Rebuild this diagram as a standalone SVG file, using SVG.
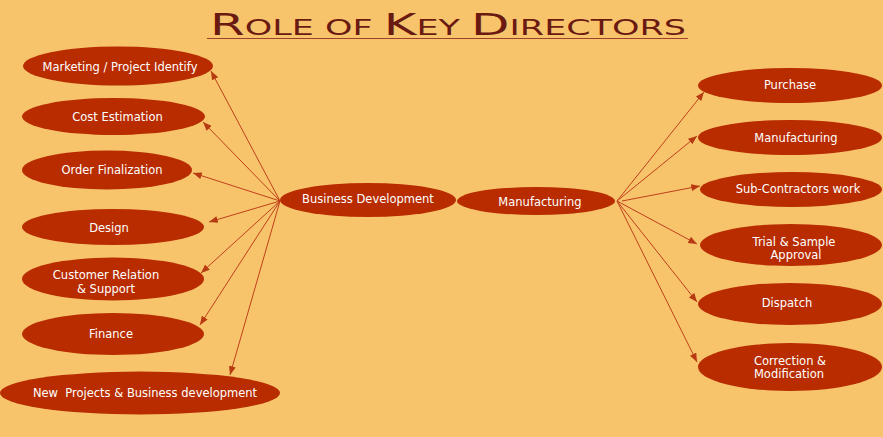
<svg xmlns="http://www.w3.org/2000/svg" width="883" height="437" viewBox="0 0 883 437">
<defs>
<style>
.n ellipse{fill:#B82C00;}
.n text{fill:#FFFFFF;font-family:"DejaVu Sans",Verdana,sans-serif;font-size:11.5px;text-anchor:middle;}
.c line{stroke:#C0401A;stroke-width:1;fill:none;}
.title{fill:#6B1A12;font-family:"DejaVu Sans",sans-serif;font-weight:normal;}
</style>
<marker id="ah" viewBox="0 0 10 8" refX="10" refY="4" markerWidth="9" markerHeight="7" orient="auto" markerUnits="userSpaceOnUse">
<path d="M0,0 L10,4 L0,8 z" fill="#B83A12"/>
</marker>
</defs>
<rect x="0" y="0" width="883" height="437" fill="#F7C46C"/>
<g id="title">
<text class="title" x="210" y="35" textLength="476" lengthAdjust="spacingAndGlyphs"><tspan font-size="30">R</tspan><tspan font-size="21">OLE </tspan><tspan font-size="21">OF </tspan><tspan font-size="30">K</tspan><tspan font-size="21">EY </tspan><tspan font-size="30">D</tspan><tspan font-size="21">IRECTORS</tspan></text>
<line x1="207" y1="38.5" x2="688" y2="38.5" stroke="#A04028" stroke-width="1"/>
</g>
<g class="c" id="connectors">
<line x1="280" y1="201" x2="211" y2="71" marker-end="url(#ah)"/>
<line x1="280" y1="201" x2="203" y2="122" marker-end="url(#ah)"/>
<line x1="280" y1="201" x2="193" y2="173" marker-end="url(#ah)"/>
<line x1="280" y1="201" x2="209" y2="222" marker-end="url(#ah)"/>
<line x1="280" y1="201" x2="201" y2="273" marker-end="url(#ah)"/>
<line x1="280" y1="201" x2="200" y2="325" marker-end="url(#ah)"/>
<line x1="280" y1="201" x2="230" y2="375" marker-end="url(#ah)"/>
<line x1="617" y1="201" x2="704" y2="92" marker-end="url(#ah)"/>
<line x1="617" y1="201" x2="697" y2="136" marker-end="url(#ah)"/>
<line x1="622" y1="201" x2="700" y2="186" marker-end="url(#ah)"/>
<line x1="617" y1="201" x2="697" y2="244" marker-end="url(#ah)"/>
<line x1="617" y1="201" x2="697" y2="302" marker-end="url(#ah)"/>
<line x1="617" y1="201" x2="697" y2="362" marker-end="url(#ah)"/>
</g>
<g class="n" id="n-marketing"><ellipse cx="118" cy="66" rx="95" ry="19.5"/><text x="120" y="71">Marketing / Project Identify</text></g>
<g class="n" id="n-cost"><ellipse cx="113.5" cy="116.5" rx="91.5" ry="18.5"/><text x="117.5" y="121">Cost Estimation</text></g>
<g class="n" id="n-order"><ellipse cx="107" cy="170" rx="85" ry="19.5"/><text x="112" y="174">Order Finalization</text></g>
<g class="n" id="n-design"><ellipse cx="113" cy="227" rx="91" ry="18"/><text x="109" y="232">Design</text></g>
<g class="n" id="n-customer"><ellipse cx="113" cy="279" rx="91" ry="21.5"/><text x="106" y="279">Customer Relation</text><text x="106" y="293">&amp; Support</text></g>
<g class="n" id="n-finance"><ellipse cx="113" cy="334" rx="91" ry="21"/><text x="111" y="338">Finance</text></g>
<g class="n" id="n-newprojects"><ellipse cx="140" cy="393" rx="140" ry="21.5"/><text x="145" y="397" xml:space="preserve">New  Projects &amp; Business development</text></g>
<g class="n" id="n-busdev"><ellipse cx="368" cy="200" rx="88" ry="17"/><text x="368" y="203">Business Development</text></g>
<g class="n" id="n-manuf-center"><ellipse cx="536" cy="201" rx="79" ry="14"/><text x="540" y="206">Manufacturing</text></g>
<g class="n" id="n-purchase"><ellipse cx="790" cy="85.5" rx="92" ry="17.5"/><text x="790" y="89">Purchase</text></g>
<g class="n" id="n-manufacturing"><ellipse cx="790" cy="137.5" rx="92" ry="17.5"/><text x="796" y="142">Manufacturing</text></g>
<g class="n" id="n-subcontractors"><ellipse cx="791" cy="189.5" rx="91" ry="17.5"/><text x="798" y="193">Sub-Contractors work</text></g>
<g class="n" id="n-trial"><ellipse cx="791" cy="245" rx="91" ry="21"/><text x="794" y="246">Trial &amp; Sample</text><text x="796" y="259">Approval</text></g>
<g class="n" id="n-dispatch"><ellipse cx="790" cy="304" rx="92" ry="21"/><text x="787" y="307">Dispatch</text></g>
<g class="n" id="n-correction"><ellipse cx="790" cy="367" rx="92" ry="24"/><text x="790" y="365">Correction &amp;</text><text x="789" y="378">Modification</text></g>
</svg>
